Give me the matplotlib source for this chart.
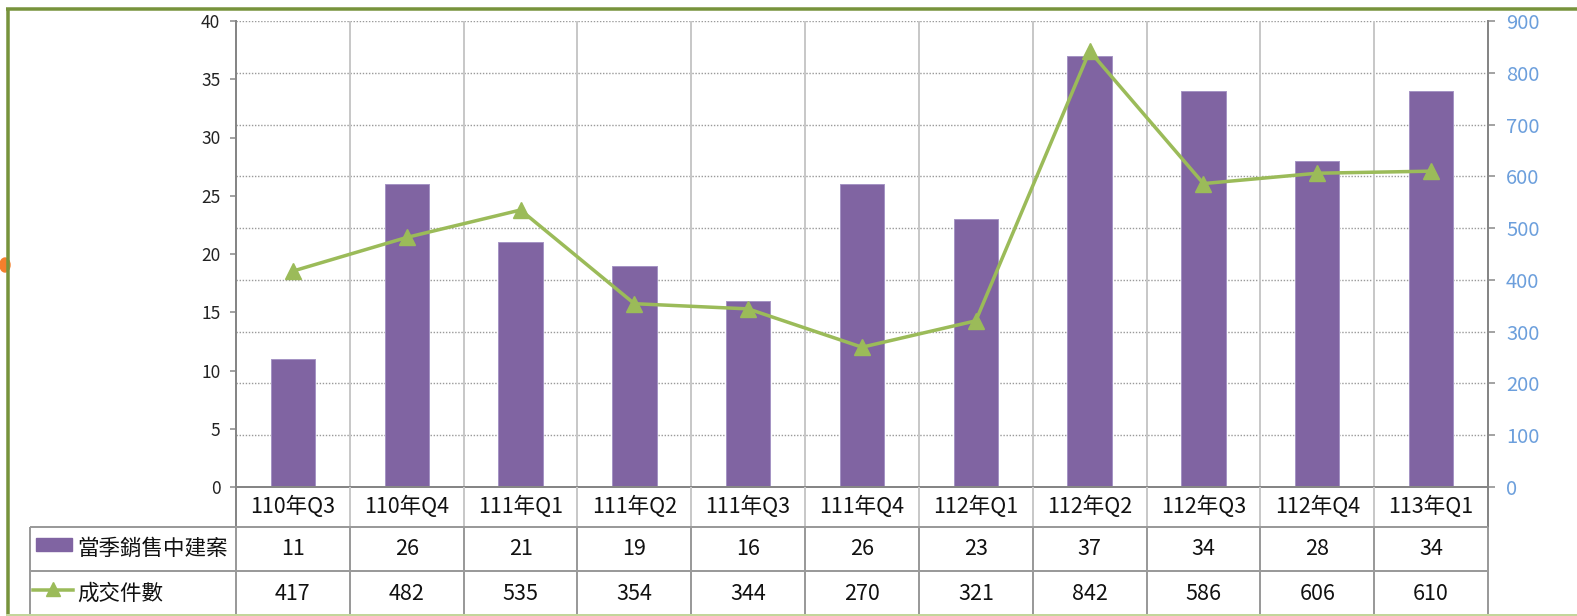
import matplotlib
matplotlib.use('Agg')
import matplotlib.pyplot as plt
from matplotlib.lines import Line2D
from matplotlib.patches import Rectangle, Ellipse
import numpy as np

plt.rcParams['font.family'] = ['Noto Sans CJK TC', 'DejaVu Sans']

categories = ['110年Q3', '110年Q4', '111年Q1', '111年Q2', '111年Q3', '111年Q4',
              '112年Q1', '112年Q2', '112年Q3', '112年Q4', '113年Q1']
projects = [11, 26, 21, 19, 16, 26, 23, 37, 34, 28, 34]
deals = [417, 482, 535, 354, 344, 270, 321, 842, 586, 606, 610]
series_names = ['當季銷售中建案', '成交件數']
left_ticks = [0, 5, 10, 15, 20, 25, 30, 35, 40]
right_ticks = [0, 100, 200, 300, 400, 500, 600, 700, 800, 900]

BAR_C = '#8064A2'
LINE_C = '#9BBB59'
W, H = 1577, 616
fig = plt.figure(figsize=(W / 100, H / 100), dpi=100)
fig.patch.set_facecolor('white')


def fx(px):
    return px / W


def fy(py):
    return 1 - py / H


def pt(px):
    return px * 0.72


L, R, T, B = 236, 1488, 21, 487
ax = fig.add_axes([fx(L), fy(B), fx(R) - fx(L), fy(T) - fy(B)])
ax2 = ax.twinx()

x = np.arange(len(categories))
ax.set_xlim(-0.5, len(categories) - 0.5)
ax.set_ylim(left_ticks[0], left_ticks[-1])
ax2.set_ylim(right_ticks[0], right_ticks[-1])

# horizontal dotted grid (following the right axis)
for v in right_ticks[1:]:
    ax.axhline(v * left_ticks[-1] / right_ticks[-1], color='#9A9A9A',
               lw=pt(1.4), ls=(0, (1, 1.2)), zorder=1)
# vertical category boundaries
for k in range(len(categories) - 1):
    ax.axvline(k + 0.5, color='#C8C8C8', lw=pt(2), zorder=1)

ax.bar(x, projects, width=0.39, color=BAR_C, edgecolor='#A594C4',
       lw=pt(1), zorder=2)
ax2.plot(x, deals, color=LINE_C, lw=pt(3.5), marker='^', ms=pt(16),
         zorder=3, clip_on=False)

# axes styling
for a in (ax, ax2):
    for s in a.spines.values():
        s.set_visible(False)
ax.spines['left'].set_visible(True)
ax.spines['left'].set_color('#868686')
ax.spines['left'].set_linewidth(pt(2))
ax.spines['bottom'].set_visible(True)
ax.spines['bottom'].set_color('#868686')
ax.spines['bottom'].set_linewidth(pt(2))
ax2.spines['right'].set_visible(True)
ax2.spines['right'].set_color('#868686')
ax2.spines['right'].set_linewidth(pt(2))

ax.set_yticks(left_ticks)
ax.tick_params(axis='y', direction='out', length=pt(6), width=pt(1.5),
               color='#868686', labelsize=12.5, labelcolor='#222222', pad=7)
ax2.set_yticks(right_ticks)
ax2.tick_params(axis='y', direction='out', length=pt(7), width=pt(1.5),
                color='#868686', labelsize=14.5, labelcolor='#6C9FDC', pad=8)
ax.set_xticks(x)
ax.set_xticklabels([])
ax.tick_params(axis='x', length=0)

# data table
cw = (R - L) / len(categories)
row_cat = (B + 527) / 2
row1 = (527 + 571) / 2
row2 = (571 + 616) / 2
FS = 15.5
for i, c in enumerate(categories):
    cx = fx(L + cw * (i + 0.5))
    fig.text(cx, fy(row_cat), c, ha='center', va='center', fontsize=FS,
             color='#111111')
    fig.text(cx, fy(row1), str(projects[i]), ha='center', va='center',
             fontsize=FS, color='#111111')
    fig.text(cx, fy(row2), str(deals[i]), ha='center', va='center',
             fontsize=FS, color='#111111')

TC = '#9A9A9A'


def fline(x0, y0, x1, y1, color=TC, lw=2, z=5):
    fig.add_artist(Line2D([fx(x0), fx(x1)], [fy(y0), fy(y1)],
                          color=color, lw=pt(lw), zorder=z,
                          solid_capstyle='butt'))


# verticals in table
for k in range(len(categories) + 1):
    xx = L + cw * k
    fline(xx, B, xx, 527, color='#C8C8C8' if 0 < k < len(categories) else '#868686')
    fline(xx, 527, xx, 616)
fline(30, 527, 30, 616)
fline(30, 527, R, 527)
fline(30, 571, R, 571)

# legend keys
fig.add_artist(Rectangle((fx(36), fy(551)), fx(72) - fx(36), fy(538) - fy(551),
                         transform=fig.transFigure, color=BAR_C, zorder=6))
fig.add_artist(Line2D([fx(33), fx(73)], [fy(590), fy(590)], color=LINE_C,
                      lw=pt(3.5), zorder=6))
fig.add_artist(Line2D([fx(53)], [fy(589)], color=LINE_C, marker='^',
                      ms=pt(14), lw=0, zorder=6))
fig.text(fx(77), fy(row1), series_names[0], ha='left', va='center',
         fontsize=FS, color='#111111')
fig.text(fx(77), fy(row2), series_names[1], ha='left', va='center',
         fontsize=FS, color='#111111')

# chart frame (green border) and selection handle
fig.add_artist(Ellipse((fx(5), fy(265)), fx(10) - fx(0), fy(0) - fy(14),
                       transform=fig.transFigure, color='#F47F2C', zorder=7))
fline(7.5, 8, 7.5, 616, color='#77933C', lw=3.5, z=8)
fline(6, 9, 1577, 9, color='#77933C', lw=3.5, z=8)
fline(6, 615, 1577, 615, color='#C3D69B', lw=2, z=8)

fig.savefig('out.png', dpi=100, facecolor='white')
